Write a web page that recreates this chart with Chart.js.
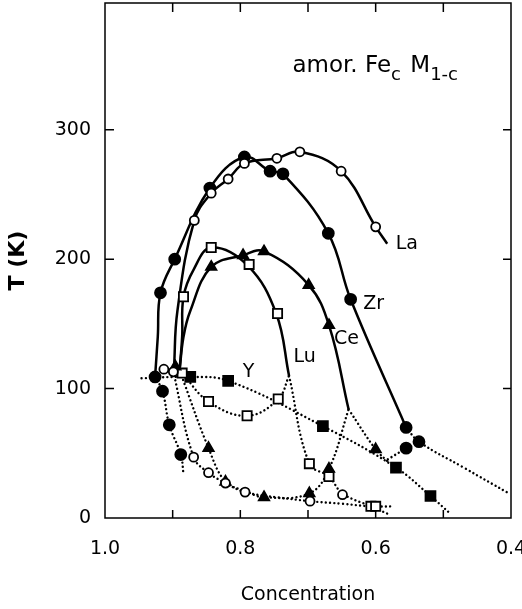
<!DOCTYPE html>
<html>
<head>
<meta charset="utf-8">
<script src="https://cdn.jsdelivr.net/npm/chart.js@4.4.1/dist/chart.umd.min.js"></script>
<style>
  html, body { margin: 0; padding: 0; background: #fff; }
  #wrap { width: 522px; height: 609px; }
</style>
</head>
<body>
<div id="wrap"><canvas id="chart"></canvas></div>
<script>
// La (open circles): solid upper curve, dotted lower curve, measured points
const laCurveC = [0.898, 0.893, 0.868, 0.843, 0.818, 0.794, 0.746, 0.712, 0.651, 0.600, 0.583];
const laCurveT = [116, 160, 230, 251, 262, 274, 278, 283, 268, 225, 212];
const laLowC = [0.899, 0.869, 0.847, 0.822, 0.793, 0.745, 0.697, 0.649, 0.607, 0.573];
const laLowT = [113, 47, 35, 27, 20, 16, 13, 11, 9, 9];
const laPtsC = [0.913, 0.899, 0.868, 0.843, 0.818, 0.794, 0.746, 0.712, 0.651, 0.600, 0.869, 0.847, 0.822, 0.793, 0.697, 0.649];
const laPtsT = [115, 113, 230, 251, 262, 274, 278, 283, 268, 225, 47, 35, 27, 20, 13, 18];

// Zr (filled circles)
const zrCurveC = [0.926, 0.922, 0.918, 0.897, 0.845, 0.794, 0.756, 0.737, 0.670, 0.637, 0.555];
const zrCurveT = [109, 140, 174, 200, 255, 279, 268, 266, 220, 169, 70];
const zrTailC = [0.555, 0.536, 0.470, 0.403];
const zrTailT = [70, 59, 39, 19];
const zrLowC = [0.926, 0.915, 0.905, 0.888, 0.884];
const zrLowT = [109, 98, 72, 49, 34];
const zrBranchC = [0.555, 0.583];
const zrBranchT = [54, 45];
const zrPtsC = [0.926, 0.918, 0.897, 0.845, 0.794, 0.756, 0.737, 0.670, 0.637, 0.555, 0.536, 0.555, 0.915, 0.905, 0.888];
const zrPtsT = [109, 174, 200, 255, 279, 268, 266, 220, 169, 70, 59, 54, 98, 72, 49];

// Ce (filled triangles)
const ceCurveC = [0.890, 0.884, 0.874, 0.843, 0.796, 0.765, 0.699, 0.669, 0.640];
const ceCurveT = [113, 140, 160, 194, 203, 206, 180, 149, 84];
const ceLowC = [0.889, 0.847, 0.822, 0.793, 0.765, 0.698, 0.669, 0.640];
const ceLowT = [113, 54, 28, 21, 16, 19, 38, 84];
const ceBranchC = [0.640, 0.600, 0.583];
const ceBranchT = [84, 53, 44];
const cePtsC = [0.843, 0.796, 0.765, 0.699, 0.669, 0.896, 0.847, 0.822, 0.765, 0.698, 0.669, 0.600];
const cePtsT = [194, 203, 206, 180, 149, 117, 54, 28, 16, 19, 38, 53];

// Lu (open squares)
const luCurveC = [0.890, 0.886, 0.884, 0.869, 0.843, 0.789, 0.747, 0.728];
const luCurveT = [113, 140, 171, 192, 209, 195, 158, 110];
const luMidC = [0.886, 0.847, 0.790, 0.744, 0.728];
const luMidT = [112, 90, 79, 92, 110];
const luLowC = [0.728, 0.698, 0.669, 0.649, 0.607, 0.581];
const luLowT = [110, 42, 32, 19, 9, 3];
const luPtsC = [0.884, 0.843, 0.787, 0.745, 0.886, 0.847, 0.790, 0.744, 0.698, 0.669, 0.607, 0.600];
const luPtsT = [171, 209, 196, 158, 112, 90, 79, 92, 42, 32, 9, 9];

// Y (filled squares)
const yLineC = [0.946, 0.874, 0.818, 0.678, 0.570, 0.519, 0.489];
const yLineT = [108, 109, 106, 71, 39, 17, 3];
const yPtsC = [0.874, 0.818, 0.678, 0.570, 0.519];
const yPtsT = [109, 106, 71, 39, 17];

// axis ticks
const xTicks = [1.0, 0.9, 0.8, 0.7, 0.6, 0.5, 0.4];
const yTicks = [0, 100, 200, 300];

// curve names and where they sit
const curveNames = ['La', 'Zr', 'Ce', 'Lu', 'Y'];
const nameC = [0.554, 0.603, 0.643, 0.705, 0.788];
const nameT = [212, 165, 138, 124.5, 113];

function pts(cs, ts) {
    return cs.map((c, i) => ({ x: c, y: ts[i] }));
}

function curve(cs, ts, dotted) {
    return {
        data: pts(cs, ts),
        showLine: true,
        pointRadius: 0,
        borderColor: '#000',
        borderWidth: dotted ? 2.4 : 2.5,
        borderDash: dotted ? [0.01, 4.3] : [],
        borderCapStyle: dotted ? 'round' : 'butt',
        tension: 0.4,
        fill: false
    };
}

function marks(cs, ts, style, filled, r) {
    return {
        data: pts(cs, ts),
        showLine: false,
        pointStyle: style,
        pointRadius: r,
        pointBorderWidth: 1.8,
        pointBorderColor: '#000',
        pointBackgroundColor: filled ? '#000' : '#fff'
    };
}

// frame with inward tick marks
const framePlugin = {
    id: 'frame',
    beforeDatasetsDraw(chart) {
        const { ctx, chartArea: a, scales: { x, y } } = chart;
        ctx.save();
        ctx.strokeStyle = '#000';
        ctx.lineWidth = 1.5;
        ctx.strokeRect(a.left, a.top, a.right - a.left, a.bottom - a.top);
        ctx.beginPath();
        x.ticks.forEach(t => {
            if (t.value <= x.min + 1e-6 || t.value >= x.max - 1e-6) return;
            const px = x.getPixelForValue(t.value);
            ctx.moveTo(px, a.bottom); ctx.lineTo(px, a.bottom - 8);
            ctx.moveTo(px, a.top); ctx.lineTo(px, a.top + 9);
        });
        y.ticks.forEach(t => {
            if (t.value <= y.min || t.value >= y.max) return;
            const py = y.getPixelForValue(t.value);
            ctx.moveTo(a.left, py); ctx.lineTo(a.left + 9, py);
            ctx.moveTo(a.right, py); ctx.lineTo(a.right - 8, py);
        });
        ctx.stroke();
        ctx.restore();
    },
    afterDatasetsDraw(chart) {
        const { ctx, scales: { x, y } } = chart;
        ctx.save();
        ctx.fillStyle = '#000';
        ctx.font = '19px "DejaVu Sans"';
        ctx.textAlign = 'center';
        ctx.textBaseline = 'middle';
        curveNames.forEach((n, i) => {
            ctx.fillText(n, x.getPixelForValue(nameC[i]), y.getPixelForValue(nameT[i]));
        });

        // amor. Fe_c M_1-c
        ctx.textAlign = 'left';
        ctx.textBaseline = 'alphabetic';
        let px = x.getPixelForValue(0.723);
        const base = y.getPixelForValue(345);
        const parts = [['amor. Fe', 0], ['c', 1], [' M', 0], ['1-c', 1]];
        parts.forEach(([s, sub]) => {
            ctx.font = sub ? '18px "DejaVu Sans"' : '23px "DejaVu Sans"';
            ctx.fillText(s, px, base + (sub ? 8 : 0));
            px += ctx.measureText(s).width + (sub ? 2 : 0);
        });
        ctx.restore();
    }
};

Chart.defaults.font.family = '"DejaVu Sans", sans-serif';
Chart.defaults.color = '#000';

new Chart(document.getElementById('chart'), {
    type: 'scatter',
    data: {
        datasets: [
            marks(laPtsC, laPtsT, 'circle', false, 4.5),
            marks(zrPtsC, zrPtsT, 'circle', true, 5.5),
            marks(cePtsC, cePtsT, 'triangle', true, 6),
            marks(luPtsC, luPtsT, 'rect', false, 6.5),
            marks(yPtsC, yPtsT, 'rect', true, 7),
            curve(laCurveC, laCurveT, false),
            curve(zrCurveC, zrCurveT, false),
            curve(ceCurveC, ceCurveT, false),
            curve(luCurveC, luCurveT, false),
            curve(laLowC, laLowT, true),
            curve(zrTailC, zrTailT, true),
            curve(zrLowC, zrLowT, true),
            curve(zrBranchC, zrBranchT, true),
            curve(ceLowC, ceLowT, true),
            curve(ceBranchC, ceBranchT, true),
            curve(luMidC, luMidT, true),
            curve(luLowC, luLowT, true),
            curve(yLineC, yLineT, true)
        ]
    },
    options: {
        responsive: true,
        maintainAspectRatio: false,
        animation: false,
        layout: { autoPadding: false, padding: { top: 3, right: 0, left: 0, bottom: 0 } },
        plugins: {
            legend: { display: false },
            tooltip: { enabled: false }
        },
        scales: {
            x: {
                type: 'linear',
                reverse: true,
                min: 0.4,
                max: 1.0,
                grid: { display: false, drawTicks: false },
                border: { display: false },
                afterBuildTicks: function(scale) {
                    scale.ticks = xTicks.map(v => ({ value: v }));
                },
                ticks: {
                    autoSkip: false,
                    maxRotation: 0,
                    padding: 20,
                    font: { size: 19 },
                    callback: function(v) {
                        return Math.round(v * 10) % 2 === 0 ? v.toFixed(1) : '';
                    }
                },
                title: {
                    display: true,
                    text: 'Concentration',
                    font: { size: 19 },
                    padding: { top: 0, bottom: 3 }
                },
                afterFit: function(scale) {
                    scale.height = 91;
                    scale.paddingLeft = 0;
                    scale.paddingRight = 11;
                }
            },
            y: {
                min: 0,
                max: 398,
                grid: { display: false, drawTicks: false },
                border: { display: false },
                afterBuildTicks: function(scale) {
                    scale.ticks = yTicks.map(v => ({ value: v }));
                },
                ticks: {
                    autoSkip: false,
                    padding: 14,
                    font: { size: 19 }
                },
                title: {
                    display: true,
                    text: 'T (K)',
                    font: { size: 22, weight: 'bold' },
                    padding: { top: 5, bottom: 0 }
                },
                afterFit: function(scale) {
                    scale.width = 105;
                    scale.paddingTop = 0;
                    scale.paddingBottom = 0;
                }
            }
        }
    },
    plugins: [framePlugin]
});
</script>
</body>
</html>
